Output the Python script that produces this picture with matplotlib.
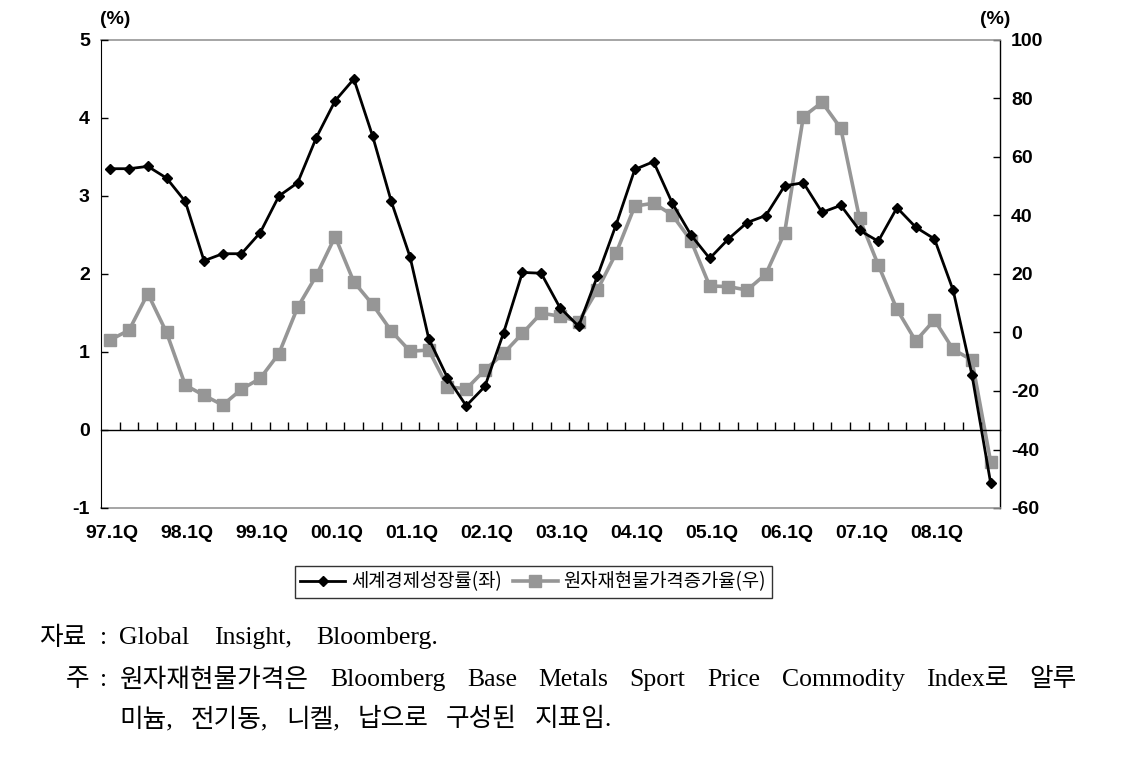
import re
import numpy as np
import matplotlib
matplotlib.use('Agg')
import matplotlib.pyplot as plt
from matplotlib.transforms import blended_transform_factory

plt.rcParams['axes.unicode_minus'] = False

# Quarters 97.1Q ... 08.4Q
years = ['97', '98', '99', '00', '01', '02', '03', '04', '05', '06', '07', '08']
quarters = [y + '.' + str(q) + 'Q' for y in years for q in range(1, 5)]
year_labels = [y + '.1Q' for y in years]

# World economic growth rate (left axis, %)
growth = [3.35, 3.35, 3.38, 3.23, 2.93, 2.17, 2.26, 2.26, 2.53, 3.00, 3.17, 3.75,
          4.22, 4.50, 3.77, 2.93, 2.22, 1.17, 0.67, 0.31, 0.56, 1.25, 2.02, 2.01,
          1.57, 1.33, 1.97, 2.63, 3.34, 3.44, 2.91, 2.50, 2.20, 2.45, 2.66, 2.75,
          3.13, 3.17, 2.79, 2.88, 2.56, 2.42, 2.85, 2.60, 2.45, 1.79, 0.71, -0.68]

# Raw material spot price growth rate (right axis, %)
metals = [-2.5, 0.8, 13.3, 0.0, -18.0, -21.5, -24.8, -19.4, -15.7, -7.2, 8.6, 19.5,
          32.8, 17.3, 9.6, 0.5, -6.4, -6.0, -18.5, -19.3, -12.8, -7.1, -0.3, 6.6,
          5.6, 3.7, 14.5, 27.1, 43.2, 44.2, 40.2, 31.4, 15.9, 15.7, 14.5, 20.0,
          34.1, 73.8, 78.7, 69.8, 39.0, 23.1, 7.9, -2.9, 4.3, -5.8, -9.4, -44.2]

label_left = '세계경제성장률(좌)'
label_right = '원자재현물가격증가율(우)'

# Notes below the chart (prefix, body per line)
note_prefix = ['자료', '주', '']
note_lines = [
    'Global Insight, Bloomberg.',
    '원자재현물가격은 Bloomberg Base Metals Sport Price Commodity Index로 알루',
    '미늄, 전기동, 니켈, 납으로 구성된 지표임.',
]

gray = '#969696'
tickfont = dict(family='Liberation Sans', weight='bold', size=14)
korean = ['Noto Sans CJK KR', 'DejaVu Sans']
serif_kr = ['Liberation Serif', 'Noto Sans CJK KR']

fig = plt.figure(figsize=(11.23, 7.73), dpi=100)
ax = fig.add_axes([101/1123, 1-508/773, 899/1123, 468/773])
ax2 = ax.twinx()
ax.set_zorder(ax2.get_zorder() + 1)
ax.patch.set_visible(False)

x = np.arange(len(quarters))

# Series
l2, = ax2.plot(x, metals, color=gray, lw=2.6, marker='s', ms=8.5,
               mfc=gray, mec=gray, label=label_right)
l1, = ax.plot(x, growth, color='black', lw=2.0, marker='D', ms=5.5,
              mfc='black', mec='black', label=label_left)

# Left axis
ax.set_ylim(-1, 5)
ax.set_yticks(range(-1, 6))
ax.set_xlim(-0.5, len(quarters) - 0.5)
ax.tick_params(axis='y', direction='in', length=5, width=1, pad=8)
for t in ax.get_yticklabels():
    t.set_fontproperties(tickfont)

# Right axis
ax2.set_ylim(-60, 100)
ax2.set_yticks(range(-60, 101, 20))
ax2.tick_params(axis='y', direction='in', length=5, width=1, pad=8)
for t in ax2.get_yticklabels():
    t.set_fontproperties(tickfont)

# Category axis sits on the zero line, ticks between quarters
ax.spines['bottom'].set_position(('data', 0))
ax.spines['bottom'].set_linewidth(1.0)
ax.spines['top'].set_visible(False)
ax.spines['right'].set_visible(False)
ax.set_xticks(x[:-1] + 0.5, minor=True)
ax.set_xticks([])
ax.tick_params(axis='x', which='minor', direction='in', length=6, width=1)
for s in ['top', 'bottom']:
    ax2.spines[s].set_color(gray)
    ax2.spines[s].set_linewidth(1.2)
ax2.spines['left'].set_visible(False)
ax2.spines['right'].set_linewidth(1.0)

# Year labels under the plot area
trans = blended_transform_factory(ax.transData, ax.transAxes)
for i, lab in zip(x[::4], year_labels):
    ax.text(i + 0.1, -0.055, lab, transform=trans, ha='center', va='center',
            fontproperties=tickfont)

# Unit labels
fig.text(115/1123, 1-20/773, '(%)', ha='center', va='center', fontproperties=tickfont)
fig.text(995/1123, 1-20/773, '(%)', ha='center', va='center', fontproperties=tickfont)

# Legend
leg = fig.legend(handles=[l1, l2], loc='center', bbox_to_anchor=(533/1123, 1-582/773),
                 ncol=2, frameon=True, fancybox=False, borderpad=0.3,
                 handlelength=2.4, handletextpad=0.3, columnspacing=0.6,
                 prop=dict(family=korean, size=13.5))
leg.get_frame().set_edgecolor('black')
leg.get_frame().set_linewidth(1.0)

# Notes: words spread between a start and end pixel, like justified text
renderer = fig.canvas.get_renderer()
W, H = fig.bbox.width, fig.bbox.height
note_size = 18.5

def place_words(text, x0, x1, ypix):
    words = text.split(' ')
    arts = [fig.text(0, 1 - ypix/H, w, ha='left', va='center',
                     family=serif_kr, size=note_size) for w in words]
    widths = [a.get_window_extent(renderer).width for a in arts]
    gap = (x1 - x0 - sum(widths)) / max(len(words) - 1, 1)
    xp = x0
    for a, w in zip(arts, widths):
        a.set_x(xp / W)
        xp += w + gap

note_y = [638, 680, 719]
note_px = [39, 66, 0]
note_end = [438, 1077, 612]
for pre, body, px, yy, xe in zip(note_prefix, note_lines, note_px, note_y, note_end):
    if pre:
        fig.text(px / W, 1 - yy/H, pre, ha='left', va='center', family=serif_kr, size=note_size)
        fig.text(104 / W, 1 - yy/H, ':', ha='center', va='center', family=serif_kr, size=note_size)
    place_words(body, 119.5, xe, yy)

fig.savefig('out.png', dpi=100)
